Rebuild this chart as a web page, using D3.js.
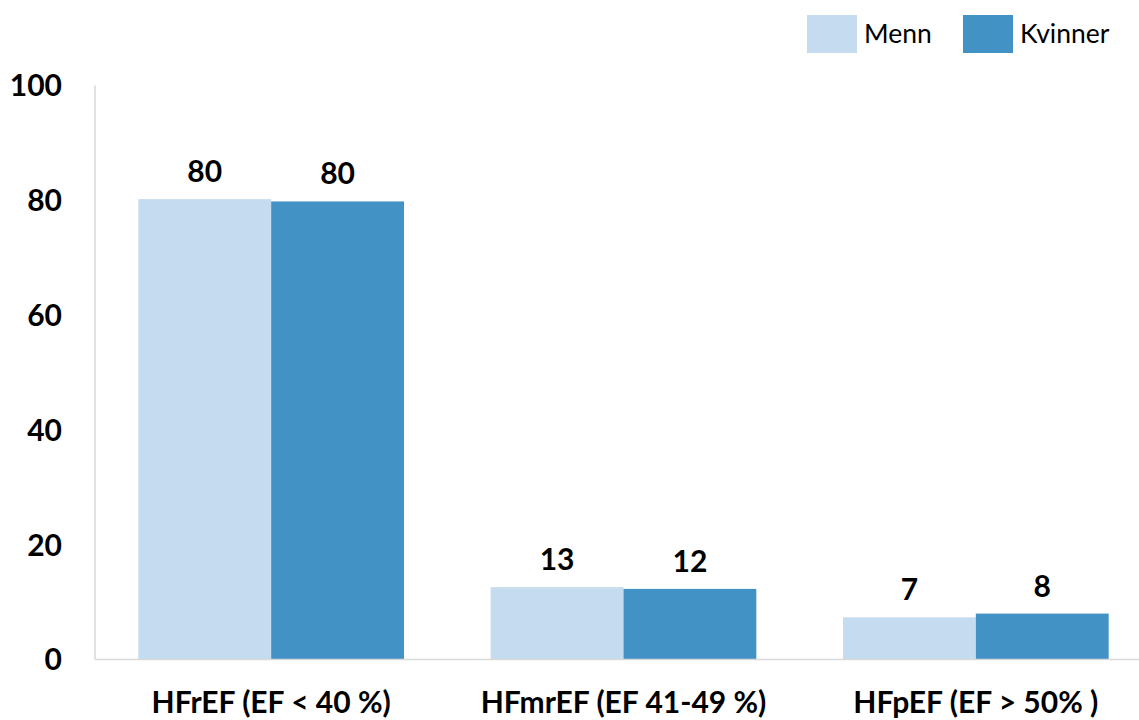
<!DOCTYPE html>
<html><head><meta charset="utf-8">
<script src="https://cdn.jsdelivr.net/npm/d3@7"></script>
<style>body{margin:0;background:#fff}svg{display:block}</style>
</head><body><svg id="c" width="1139" height="720"></svg>
<script>
const categories = ["HFrEF (EF < 40 %)", "HFmrEF (EF 41-49 %)", "HFpEF (EF > 50% )"];
const seriesNames = ["Menn", "Kvinner"];
const menn = [80.2, 12.6, 7.35];
const kvinner = [79.8, 12.3, 8.0];
const mennLabels = ["80", "13", "7"];
const kvinnerLabels = ["80", "12", "8"];
const yTicks = [0, 20, 40, 60, 80, 100];
const colors = ["#c5dbef", "#4292c6"];

const svg = d3.select("#c");
const W = 1139;
const y = d3.scaleLinear().domain([0, 100]).range([659.5, 85.5]);
const x0 = d3.scaleBand().domain(categories).range([95, 1152]).paddingInner(0.246).paddingOuter(0.123);
const x1 = d3.scaleBand().domain(seriesNames).range([0, x0.bandwidth()]);

const fontB = "Lato, 'Noto Sans', sans-serif";

svg.append("line").attr("x1", 95).attr("x2", 95).attr("y1", y(100)).attr("y2", y(0))
  .attr("stroke", "#d9d9d9").attr("stroke-width", 1.5);

svg.append("g").selectAll("text").data(yTicks).join("text")
  .attr("x", 62).attr("y", d => y(d)).attr("dy", "0.36em")
  .attr("text-anchor", "end").attr("font-family", fontB).attr("font-weight", 700)
  .attr("font-size", 30).attr("fill", "#000").text(d => d);

const data = categories.map((c, i) => ({
  cat: c,
  vals: [
    {s: "Menn", v: menn[i], l: mennLabels[i]},
    {s: "Kvinner", v: kvinner[i], l: kvinnerLabels[i]}
  ]
}));

const g = svg.append("g").selectAll("g").data(data).join("g")
  .attr("transform", d => `translate(${x0(d.cat)},0)`);

g.selectAll("rect").data(d => d.vals).join("rect")
  .attr("x", d => x1(d.s)).attr("width", x1.bandwidth())
  .attr("y", d => y(d.v)).attr("height", d => y(0) - y(d.v))
  .attr("fill", (d, i) => colors[i]);

g.selectAll("text").data(d => d.vals).join("text")
  .attr("x", d => x1(d.s) + x1.bandwidth() / 2)
  .attr("y", d => y(d.v) - 17)
  .attr("text-anchor", "middle").attr("font-family", fontB).attr("font-weight", 700)
  .attr("font-size", 30).attr("fill", "#000").text(d => d.l);

svg.append("line").attr("x1", 95).attr("x2", W).attr("y1", y(0)).attr("y2", y(0))
  .attr("stroke", "#d9d9d9").attr("stroke-width", 1.5);

svg.append("g").selectAll("text").data(categories).join("text")
  .attr("x", d => x0(d) + x0.bandwidth() / 2).attr("y", 713)
  .attr("text-anchor", "middle").attr("font-family", fontB).attr("font-weight", 700)
  .attr("font-size", 30).attr("fill", "#000").text(d => d);

const legX = [807, 963];
const leg = svg.append("g").selectAll("g").data(seriesNames).join("g")
  .attr("transform", (d, i) => `translate(${legX[i]},15)`);
leg.append("rect").attr("width", 50).attr("height", 38).attr("fill", (d, i) => colors[i]);
leg.append("text").attr("x", 57).attr("y", 28)
  .attr("font-family", fontB).attr("font-size", 26.5).attr("fill", "#000").text(d => d);
</script></body></html>
